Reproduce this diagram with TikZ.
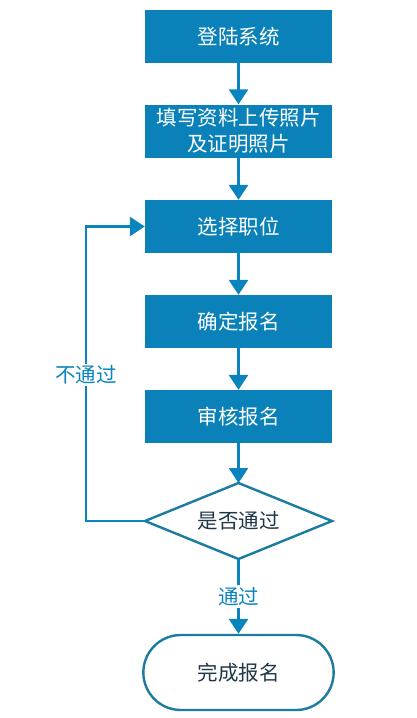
\documentclass[tikz,border=0pt]{standalone}
\usepackage{fontspec}
\setmainfont{Noto Sans CJK SC}
\usetikzlibrary{shapes.geometric,shapes.misc,arrows.meta}
\definecolor{boxblue}{HTML}{0A82B9}
\definecolor{linkblue}{HTML}{0A84BE}
\definecolor{edgeteal}{HTML}{1C7BA0}
\definecolor{darktext}{HTML}{1F3747}
\tikzset{
  stepbox/.style={rectangle, fill=boxblue, draw=none, minimum width=187pt, minimum height=53pt, inner sep=0pt, text=white, font=\fontsize{20.5}{24}\selectfont, align=center},
  flow/.style={draw=linkblue, line width=2.8pt, -{Triangle[length=15pt,width=19pt]}},
  term/.style={rounded rectangle, draw=edgeteal, line width=2.4pt, fill=white, minimum width=197pt, minimum height=75pt, text=darktext, font=\fontsize{20.5}{24}\selectfont},
  lbl/.style={fill=white, text=linkblue, font=\fontsize{20.5}{24}\selectfont, inner sep=2pt}
}
\begin{document}
\begin{tikzpicture}[x=1pt,y=-1pt]
\useasboundingbox (0,0) rectangle (417,718);
\node[stepbox] (a) at (238.5,36.5) {登陆系统};
\node[stepbox] (b) at (238.5,131) {填写资料上传照片\\[2pt]及证明照片};
\node[stepbox] (c) at (238.5,226.5) {选择职位};
\node[stepbox] (d) at (238.5,321.5) {确定报名};
\node[stepbox] (e) at (238.5,416.5) {审核报名};
\path[draw=edgeteal, line width=2.4pt, fill=white, line join=miter] (145,521) -- (238.5,483) -- (332,521) -- (238.5,559) -- cycle;
\node[text=darktext, font=\fontsize{20.5}{24}\selectfont] (ft) at (238.5,521) {是否通过};
\coordinate (fl) at (145,521);
\coordinate (ftop) at (238.5,483);
\coordinate (fbot) at (238.5,559);
\coordinate (lc) at (86,521);
\coordinate (uc) at (86,226.5);
\node[term] (g) at (238.5,672.5) {完成报名};
\draw[flow] (a) -- (b);
\draw[flow] (b) -- (c);
\draw[flow] (c) -- (d);
\draw[flow] (d) -- (e);
\draw[flow] (e) -- (ftop);
\draw[flow] (fbot) -- (g) node[lbl, pos=0.5] {通过};
\draw[flow] (fl) -- (lc) -- (uc) -- (c.west);
\node[lbl] (nl) at (86,375) {不通过};
\end{tikzpicture}
\end{document}
